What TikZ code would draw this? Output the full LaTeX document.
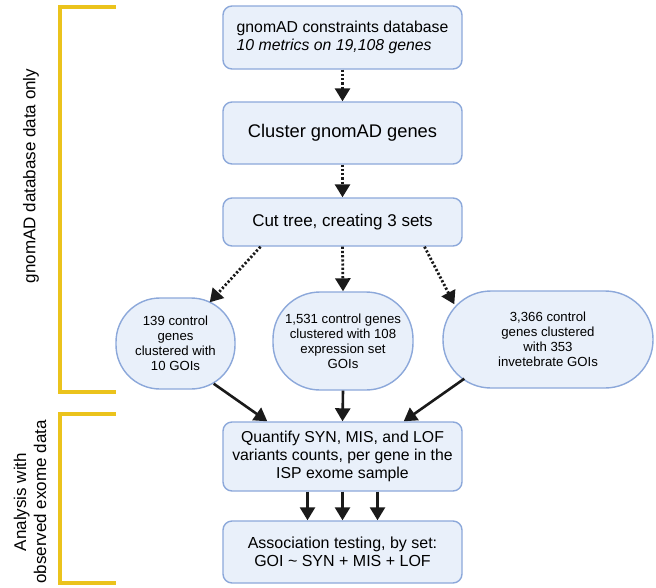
\documentclass[tikz,border=0pt]{standalone}
\usepackage{fontspec}
\setmainfont{Liberation Sans}
\usetikzlibrary{arrows.meta}
\definecolor{boxfill}{HTML}{E9F0FA}
\definecolor{boxline}{HTML}{8CA8DA}
\definecolor{brackety}{HTML}{EBC31C}
\definecolor{arrowc}{HTML}{1A1A1A}
\tikzset{
  x=1pt, y=1pt,
  stepbox/.style={draw=boxline, fill=boxfill, line width=1.4pt, rounded corners=9pt,
    minimum width=239pt, align=center, inner sep=0pt, text=black},
  setblob/.style={draw=boxline, fill=boxfill, line width=1.4pt, align=center,
    inner sep=0pt, text=black, font=\fontsize{13.2}{15}\selectfont},
  dotarrow/.style={draw=arrowc, line width=2.8pt, dash pattern=on 2.2pt off 2pt,
    -{Triangle[width=15pt,length=13pt]}},
  solidarrow/.style={draw=arrowc, line width=2.6pt, -{Triangle[width=15pt,length=13pt]}},
  bracketline/.style={draw=brackety, line width=4pt},
  sidelabel/.style={rotate=90, align=center, font=\fontsize{17}{20}\selectfont}
}
\begin{document}
\begin{tikzpicture}
\useasboundingbox (0,0) rectangle (656,-587);

% main boxes
\node[stepbox, minimum height=63pt, font=\fontsize{15.8}{18}\selectfont] (b1) at (342.5,-37.5)
  {\begin{tabular}{@{}l@{}}gnomAD constraints database\\ \textit{10 metrics on 19,108 genes}\end{tabular}};
\node[stepbox, minimum height=62pt, font=\fontsize{18.3}{21}\selectfont] (b2) at (342.5,-133) {Cluster gnomAD genes};
\node[stepbox, minimum height=48pt, font=\fontsize{17}{20}\selectfont] (b3) at (342.5,-222) {Cut tree, creating 3 sets};
\node[stepbox, minimum height=69pt, font=\fontsize{15.8}{18}\selectfont] (b4) at (342.5,-456.5)
  {Quantify SYN, MIS, and LOF\\variants counts, per gene in the\\ISP exome sample};
\node[stepbox, minimum height=62pt, font=\fontsize{16}{18}\selectfont] (b5) at (342.5,-552)
  {Association testing, by set:\\GOI \textasciitilde{} SYN + MIS + LOF};

% set blobs
\node[setblob, minimum width=119pt, minimum height=91pt, rounded corners=44pt] (left) at (175.5,-343.5)
  {139 control\\genes\\clustered with\\10 GOIs};
\node[setblob, minimum width=140pt, minimum height=98pt, rounded corners=47pt] (mid) at (343,-341)
  {1,531 control genes\\clustered with 108\\expression set\\GOIs};
\node[setblob, minimum width=210pt, minimum height=97pt, rounded corners=48pt] (right) at (548,-339.5)
  {3,366 control\\genes clustered\\with 353\\invetebrate GOIs};

% dotted connectors
\draw[dotarrow] (b1.south) -- (b2.north);
\draw[dotarrow] (b2.south) -- (b3.north);
\draw[dotarrow] ([xshift=-82pt]b3.south) -- ([xshift=-26pt,yshift=-5pt]left.north east);
\draw[dotarrow] (b3.south) -- (mid.north);
\draw[dotarrow] ([xshift=82pt]b3.south) -- ([xshift=12pt,yshift=-14pt]right.north west);

% solid connectors
\draw[solidarrow] ([xshift=-22pt,yshift=6pt]left.south east) -- ([xshift=45pt]b4.north west);
\draw[solidarrow] (mid.south) -- (b4.north);
\draw[solidarrow] ([xshift=22pt,yshift=10pt]right.south west) -- ([xshift=-59pt]b4.north east);
\draw[solidarrow] ([xshift=-35pt]b4.south) -- ([xshift=-35pt]b5.north);
\draw[solidarrow] (b4.south) -- (b5.north);
\draw[solidarrow] ([xshift=35pt]b4.south) -- ([xshift=35pt]b5.north);

% brackets
\draw[bracketline] (116,-7) -- (60,-7) -- (60,-392) -- (116,-392);
\draw[bracketline] (116,-414) -- (60,-414) -- (60,-583) -- (116,-583);

% side labels
\node[sidelabel] (lab1) at (31,-176) {gnomAD database data only};
\node[sidelabel] (lab2) at (30,-502) {Analysis with\\observed exome data};
\end{tikzpicture}
\end{document}
